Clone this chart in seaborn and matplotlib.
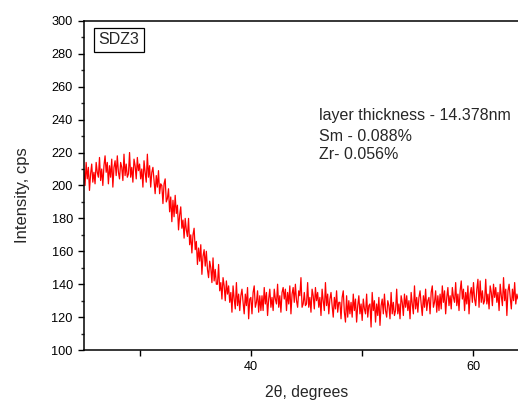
import numpy as np
import pandas as pd
import matplotlib
matplotlib.use("Agg")
import matplotlib.pyplot as plt
import seaborn as sns

# 2-theta grid: 25.0 .. 64.0 deg, 0.1 deg step
two_theta = np.round(np.arange(250, 641) / 10.0, 1)

intensity = [
    209, 200, 214, 204, 211, 197, 207, 213, 202, 208,   # 25
    201, 214, 208, 205, 217, 203, 210, 200, 212, 218,   # 26
    208, 214, 201, 212, 205, 216, 199, 211, 215, 206,   # 27
    218, 208, 204, 214, 211, 203, 219, 206, 213, 205,   # 28
    207, 220, 205, 211, 202, 216, 212, 204, 217, 209,   # 29
    213, 204, 210, 199, 215, 208, 202, 219, 205, 212,   # 30
    199, 208, 211, 203, 195, 206, 199, 209, 195, 201,   # 31
    200, 189, 201, 204, 190, 192, 198, 184, 193, 178,   # 32
    191, 181, 194, 183, 188, 173, 182, 187, 174, 179,   # 33
    168, 180, 173, 169, 180, 164, 170, 159, 170, 174,   # 34
    161, 166, 152, 162, 154, 164, 146, 157, 161, 151,   # 35
    160, 149, 144, 154, 150, 141, 156, 142, 149, 140,   # 36
    140, 152, 136, 141, 131, 144, 139, 130, 142, 134,   # 37
    139, 129, 135, 123, 139, 131, 125, 141, 127, 134,   # 38
    124, 133, 137, 129, 122, 134, 127, 138, 119, 131,   # 39
    132, 122, 135, 139, 126, 129, 136, 123, 133, 124,   # 40
    133, 124, 138, 128, 135, 121, 131, 137, 126, 132,   # 41
    124, 137, 131, 128, 140, 126, 133, 123, 135, 138,   # 42
    131, 137, 124, 135, 128, 139, 122, 134, 138, 129,   # 43
    140, 130, 126, 136, 133, 144, 126, 128, 135, 127,   # 44
    128, 141, 126, 132, 123, 137, 133, 125, 138, 130,   # 45
    135, 126, 132, 121, 137, 130, 124, 141, 127, 134,   # 46
    122, 131, 135, 127, 120, 132, 125, 136, 123, 129,   # 47
    129, 119, 132, 136, 123, 117, 133, 120, 130, 122,   # 48
    129, 120, 134, 124, 131, 117, 127, 133, 122, 128,   # 49
    118, 131, 125, 122, 134, 120, 127, 128, 114, 135,   # 50
    124, 130, 117, 128, 121, 132, 115, 127, 131, 122,   # 51
    134, 124, 120, 130, 127, 119, 135, 122, 129, 121,   # 52
    124, 137, 122, 128, 119, 133, 129, 121, 134, 126,   # 53
    133, 124, 130, 119, 135, 128, 122, 139, 125, 132,   # 54
    123, 132, 136, 128, 121, 133, 126, 137, 124, 130,   # 55
    132, 122, 135, 139, 126, 129, 136, 123, 133, 124,   # 56
    134, 125, 139, 129, 136, 122, 132, 138, 127, 133,   # 57
    125, 138, 132, 129, 141, 127, 134, 124, 136, 142,   # 58
    131, 137, 124, 135, 128, 139, 122, 134, 138, 129,   # 59
    141, 131, 127, 137, 143, 126, 142, 129, 136, 128,   # 60
    130, 143, 128, 134, 125, 139, 135, 127, 140, 132,   # 61
    138, 129, 135, 124, 140, 133, 127, 144, 130, 137,   # 62
    121, 136, 140, 132, 125, 137, 130, 141, 128, 134,   # 63
    131,                                                # 64
]

sample_label = "SDZ3"
info_lines = ["layer thickness - 14.378nm", "Sm - 0.088%", "Zr- 0.056%"]
x_major = [30, 40, 50, 60]
x_labels = ["", "40", "", "60"]
y_major = list(range(100, 301, 20))

df = pd.DataFrame({"two_theta": two_theta, "intensity": intensity})

sns.set_style("ticks")
plt.rcParams["font.family"] = ["Liberation Sans", "DejaVu Sans"]

fig = plt.figure(figsize=(5.18, 4.01), dpi=100)
ax = fig.add_axes([0.162, 0.127, 0.838, 0.821])

sns.lineplot(data=df, x="two_theta", y="intensity", color="#ff0000",
             linewidth=0.9, ax=ax)

ax.set_xlim(25, 64)
ax.set_ylim(100, 300)
ax.set_xticks(x_major)
ax.set_xticklabels(x_labels)
ax.set_yticks(y_major)
ax.set_yticks(list(range(110, 300, 20)), minor=True)

for side in ["left", "bottom", "top"]:
    ax.spines[side].set_linewidth(1.1)
    ax.spines[side].set_color("black")
ax.spines["right"].set_visible(False)

ax.tick_params(axis="both", which="major", direction="out", length=4.5,
               width=1.0, labelsize=9.2, colors="black")
ax.tick_params(axis="y", which="minor", direction="out", length=2.5, width=1.0)

ax.set_xlabel("2\u03b8, degrees", fontsize=11.3)
ax.set_ylabel("Intensity, cps", fontsize=12)
ax.xaxis.set_label_coords(0.512, -0.107)
ax.yaxis.set_label_coords(-0.125, 0.471)

ax.text(0.081, 0.942, sample_label, transform=ax.transAxes, fontsize=11.5,
        ha="center", va="center",
        bbox=dict(boxstyle="square,pad=0.3", fc="white", ec="black", lw=0.9))

for ypos, line in zip([0.711, 0.650, 0.593], info_lines):
    ax.text(0.541, ypos, line, transform=ax.transAxes, fontsize=11.5,
            ha="left", va="center")

fig.savefig("out.png", dpi=100)
